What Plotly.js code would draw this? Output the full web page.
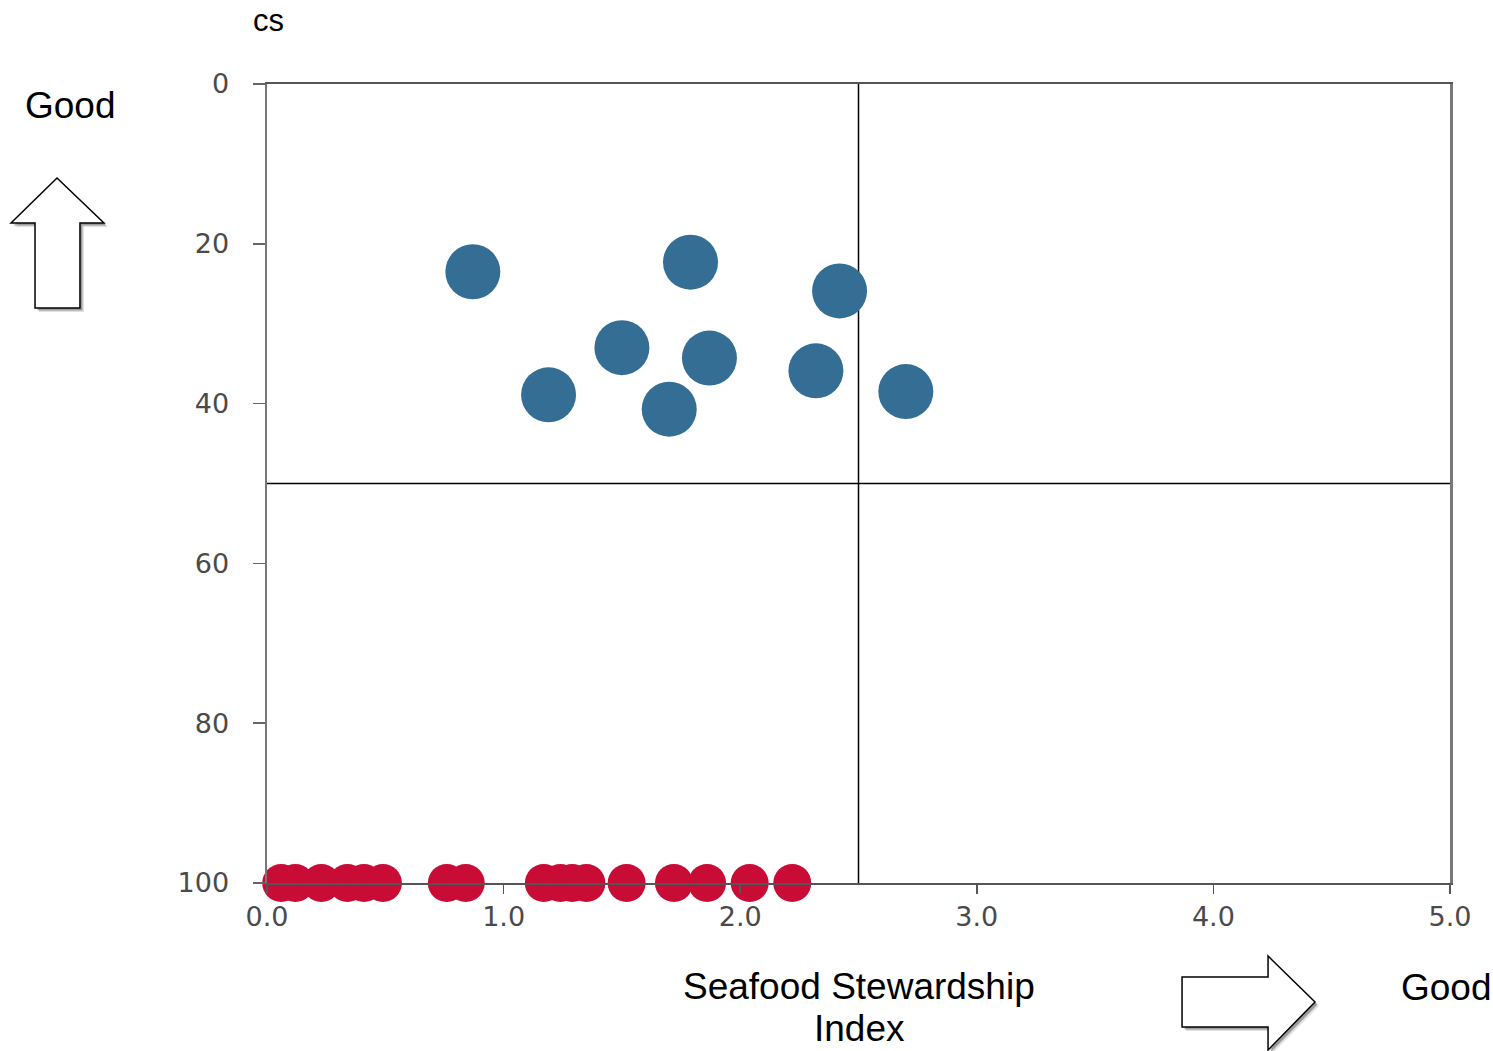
<!DOCTYPE html>
<html>
<head>
<meta charset="utf-8">
<script src="https://cdn.plot.ly/plotly-3.0.1.min.js"></script>
<style>html,body{margin:0;padding:0;background:#fff;}#chart{width:1493px;height:1051px;}</style>
</head>
<body>
<div id="chart"></div>
<script>
// ---- data ----
const blueX = [0.87, 1.79, 2.42, 1.50, 1.87, 1.19, 1.70, 2.32, 2.70];
const blueY = [23.5, 22.3, 25.9, 33.0, 34.3, 38.9, 40.7, 35.9, 38.5];
const redX = [0.06, 0.12, 0.23, 0.34, 0.41, 0.49, 0.76, 0.84, 1.17, 1.24, 1.29, 1.35, 1.52, 1.72, 1.86, 2.04, 2.22];
const redY = [100, 100, 100, 100, 100, 100, 100, 100, 100, 100, 100, 100, 100, 100, 100, 100, 100];
const xTickVals = [0, 1, 2, 3, 4, 5];
const xTickText = ["0.0", "1.0", "2.0", "3.0", "4.0", "5.0"];
const yTickVals = [0, 20, 40, 60, 80, 100];
const yTickText = ["0", "20", "40", "60", "80", "100"];
const xThreshold = 2.5;
const yThreshold = 50;
const xTitleLine1 = "Seafood Stewardship";
const xTitleLine2 = "Index";
const yTitle = "cs";
const goodLabel = "Good";

// ---- layout helpers (pixel -> paper) ----
const W = 1493, H = 1051;
const M = {l: 267, r: 43, t: 84, b: 168};
const pw = W - M.l - M.r, ph = H - M.t - M.b;
const px = x => (x - M.l) / pw;
const py = y => (H - M.b - y) / ph;
function pathFrom(pts, dx, dy) {
  return pts.map((p, i) => (i ? 'L' : 'M') + px(p[0] + dx).toFixed(4) + ',' + py(p[1] + dy).toFixed(4)).join(' ') + ' Z';
}
const upArrow = [[57,178],[104,223],[80,223],[80,308],[35,308],[35,223],[11,223]];
const rightArrow = [[1182,977],[1268,977],[1268,956],[1315,1002],[1268,1050],[1268,1027],[1182,1027]];

const textFont = {family: 'Liberation Sans, Arial, sans-serif', size: 37, color: '#000'};

const traces = [
  {
    x: blueX, y: blueY, type: 'scatter', mode: 'markers', cliponaxis: false,
    marker: {size: 55, color: '#356e95', line: {width: 0}}, hoverinfo: 'x+y'
  },
  {
    x: redX, y: redY, type: 'scatter', mode: 'markers', cliponaxis: false,
    marker: {size: 38, color: '#c80c36', line: {width: 0}}, hoverinfo: 'x+y'
  }
];

const shapes = [
  {type: 'line', xref: 'x', yref: 'paper', x0: xThreshold, x1: xThreshold, y0: 0, y1: 1, line: {color: '#000', width: 1.5}, layer: 'below'},
  {type: 'line', xref: 'paper', yref: 'y', x0: 0, x1: 1, y0: yThreshold, y1: yThreshold, line: {color: '#000', width: 1.5}, layer: 'below'},
  // arrow shadows (soft)
  {type: 'path', xref: 'paper', yref: 'paper', path: pathFrom(upArrow, 4, 4), fillcolor: 'rgba(0,0,0,0.12)', line: {width: 0}},
  {type: 'path', xref: 'paper', yref: 'paper', path: pathFrom(rightArrow, 4, 4), fillcolor: 'rgba(0,0,0,0.12)', line: {width: 0}},
  {type: 'path', xref: 'paper', yref: 'paper', path: pathFrom(upArrow, 2.5, 2.5), fillcolor: 'rgba(0,0,0,0.3)', line: {width: 0}},
  {type: 'path', xref: 'paper', yref: 'paper', path: pathFrom(rightArrow, 2.5, 2.5), fillcolor: 'rgba(0,0,0,0.3)', line: {width: 0}},
  // arrows
  {type: 'path', xref: 'paper', yref: 'paper', path: pathFrom(upArrow, 0, 0), fillcolor: '#fff', line: {color: '#000', width: 1.5}},
  {type: 'path', xref: 'paper', yref: 'paper', path: pathFrom(rightArrow, 0, 0), fillcolor: '#fff', line: {color: '#000', width: 1.5}}
];

const annotations = [
  {xref: 'paper', yref: 'paper', x: px(268), y: py(20), text: yTitle, showarrow: false, font: {...textFont, size: 31}, xanchor: 'center', yanchor: 'middle'},
  {xref: 'paper', yref: 'paper', x: px(70), y: py(105), text: goodLabel, showarrow: false, font: textFont, xanchor: 'center', yanchor: 'middle'},
  {xref: 'paper', yref: 'paper', x: px(1446), y: py(988), text: goodLabel, showarrow: false, font: textFont, xanchor: 'center', yanchor: 'middle'},
  {xref: 'paper', yref: 'paper', x: px(859), y: py(986), text: xTitleLine1, showarrow: false, font: textFont, xanchor: 'center', yanchor: 'middle'},
  {xref: 'paper', yref: 'paper', x: px(859), y: py(1028), text: xTitleLine2, showarrow: false, font: textFont, xanchor: 'center', yanchor: 'middle'}
];

const tickFont = {family: 'DejaVu Sans, Verdana, sans-serif', size: 27, color: '#4a4a4a'};

const layout = {
  width: W, height: H,
  margin: M,
  paper_bgcolor: '#fff', plot_bgcolor: '#fff',
  showlegend: false,
  xaxis: {
    range: [0, 5], tickvals: xTickVals, ticktext: xTickText,
    showgrid: false, zeroline: false, showline: true, mirror: true,
    linecolor: '#555', linewidth: 2, ticks: 'outside', ticklen: 9, tickcolor: '#555', tickwidth: 1.5,
    tickfont: tickFont
  },
  yaxis: {
    range: [100, 0], tickvals: yTickVals, ticktext: yTickText,
    showgrid: false, zeroline: false, showline: true, mirror: true,
    linecolor: '#777', linewidth: 2.5, ticks: 'outside', ticklen: 12, tickcolor: '#666', tickwidth: 1.5,
    tickfont: tickFont, ticklabelstandoff: 18
  },
  shapes: shapes,
  annotations: annotations
};

Plotly.newPlot('chart', traces, layout, {displayModeBar: false, staticPlot: true});
</script>
</body>
</html>
